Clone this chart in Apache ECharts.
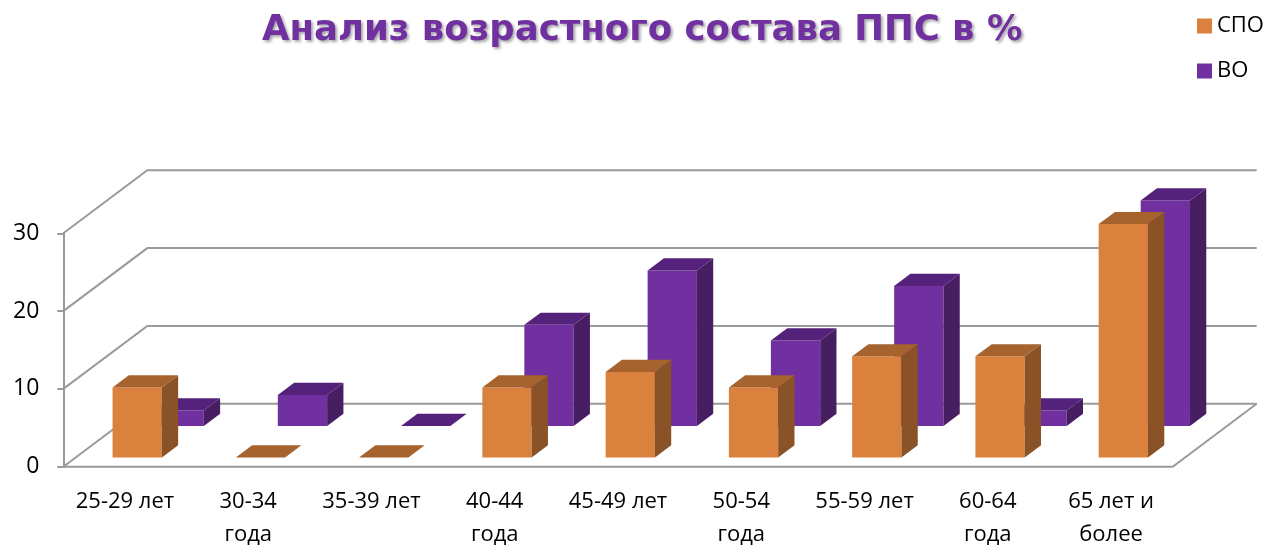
<!DOCTYPE html>
<html><head><meta charset="utf-8">
<script src="https://cdn.jsdelivr.net/npm/echarts@6/dist/echarts.min.js"></script>
<style>html,body{margin:0;padding:0;background:#fff}#c{width:1267px;height:546px}</style>
</head><body><div id="c"></div>
<script>
// ---- data ----
const categories = ['25-29 лет', '30-34\nгода', '35-39 лет', '40-44\nгода', '45-49 лет', '50-54\nгода', '55-59 лет', '60-64\nгода', '65 лет и\nболее'];
const spoValues = [9, 0, 0, 9, 11, 9, 13, 13, 30];
const voValues = [2, 4, 0, 13, 20, 11, 18, 2, 29];
const yTicks = [0, 10, 20, 30];
const seriesNames = ['СПО', 'ВО'];
const titleText = 'Анализ возрастного состава ППС в %';

// ---- geometry / style ----
const DEPTH_X = 84, DEPTH_Y = -63;
const BAR_W = 0.4;
const ROW_FRONT = [0.146, 0.34];
const ROW_BACK = [0.646, 0.84];
const ORANGE = { front: '#DA823D', side: '#8A5227', top: '#A6632E' };
const PURPLE = { front: '#7030A0', side: '#481E62', top: '#54227A' };
const LINE = '#9a9a9a';
const FONT = "'Open Sans', 'Noto Sans', sans-serif";
const TITLE_FONT = "'DejaVu Sans', 'Open Sans', sans-serif";

function barRender(row, colors) {
  return function (params, api) {
    const idx = api.value(0), val = api.value(1);
    const p0 = api.coord([idx, 0]);
    const p1 = api.coord([idx, val]);
    const cw = api.size([1, 0])[0];
    const hw = cw * BAR_W / 2;
    const d0x = DEPTH_X * row[0], d0y = DEPTH_Y * row[0];
    const ddx = DEPTH_X * (row[1] - row[0]), ddy = DEPTH_Y * (row[1] - row[0]);
    const xl = p0[0] - hw + d0x, xr = p0[0] + hw + d0x;
    const yb = p0[1] + d0y, yt = p1[1] + d0y;
    const children = [];
    if (val > 0) {
      children.push({ type: 'polygon', shape: { points: [[xl, yb], [xr, yb], [xr, yt], [xl, yt]] }, style: { fill: colors.front } });
      children.push({ type: 'polygon', shape: { points: [[xr, yb], [xr + ddx, yb + ddy], [xr + ddx, yt + ddy], [xr, yt]] }, style: { fill: colors.side } });
    }
    children.push({ type: 'polygon', shape: { points: [[xl, yt], [xr, yt], [xr + ddx, yt + ddy], [xl + ddx, yt + ddy]] }, style: { fill: colors.top } });
    return { type: 'group', children };
  };
}

function wallRender(params, api) {
  const v = api.value(1);
  const cw = api.size([1, 0])[0];
  const pl = api.coord([0, v]);
  const pr = api.coord([categories.length - 1, v]);
  const xl = pl[0] - cw / 2, xr = pr[0] + cw / 2, y = pl[1];
  const st = { stroke: LINE, lineWidth: 2, fill: null };
  const children = [
    { type: 'polyline', shape: { points: [[xl, y], [xl + DEPTH_X, y + DEPTH_Y], [xr + DEPTH_X, y + DEPTH_Y]] }, style: st }
  ];
  if (v === 0) {
    children.push({ type: 'polyline', shape: { points: [[xl, y], [xr, y], [xr + DEPTH_X, y + DEPTH_Y]] }, style: st });
  }
  return { type: 'group', children };
}

const chart = echarts.init(document.getElementById('c'));
chart.setOption({
  animation: false,
  backgroundColor: '#fff',
  title: {
    text: titleText,
    left: 262,
    top: 13,
    padding: 0,
    textStyle: {
      fontFamily: TITLE_FONT, fontSize: 35.5, fontWeight: 'bold', color: '#7030A0',
      textShadowColor: 'rgba(0,0,0,0.35)', textShadowBlur: 3, textShadowOffsetX: 2, textShadowOffsetY: 2
    }
  },
  legend: {
    orient: 'vertical',
    left: 1197, top: 15,
    itemWidth: 15, itemHeight: 15, itemGap: 23,
    icon: 'rect',
    padding: 0,
    textStyle: { fontFamily: FONT, fontSize: 22, color: '#000' },
    data: seriesNames
  },
  grid: { left: 63.3, right: 94.3, top: 233.3, bottom: 79.3, containLabel: false, outerBoundsMode: 'none' },
  xAxis: {
    type: 'category',
    data: categories,
    boundaryGap: true,
    axisLine: { show: false },
    axisTick: { show: false },
    axisLabel: { fontFamily: FONT, fontSize: 22, color: '#000', lineHeight: 33, margin: 19, interval: 0 }
  },
  yAxis: {
    type: 'value', min: 0, max: 30, interval: 10,
    axisLine: { show: true, lineStyle: { color: LINE, width: 2 } },
    axisTick: { show: true, length: 6, lineStyle: { color: LINE, width: 2 } },
    splitLine: { show: false },
    axisLabel: { fontFamily: FONT, fontSize: 23, color: '#000', margin: 24 }
  },
  series: [
    {
      type: 'custom', name: 'walls', z: 1, silent: true,
      renderItem: wallRender,
      data: yTicks.map(v => [0, v])
    },
    {
      type: 'custom', name: seriesNames[1], z: 2,
      itemStyle: { color: PURPLE.front },
      renderItem: barRender(ROW_BACK, PURPLE),
      data: voValues.map((v, i) => [i, v])
    },
    {
      type: 'custom', name: seriesNames[0], z: 3,
      itemStyle: { color: ORANGE.front },
      renderItem: barRender(ROW_FRONT, ORANGE),
      data: spoValues.map((v, i) => [i, v])
    }
  ]
});
</script>
</body></html>
